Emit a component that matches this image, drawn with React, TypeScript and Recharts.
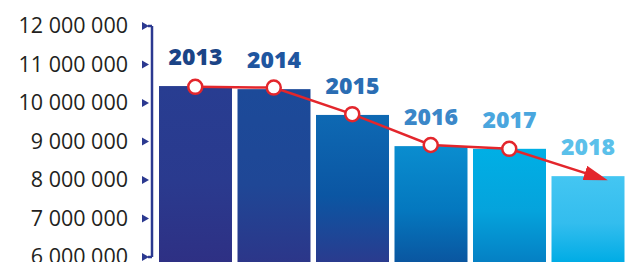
import React from 'react';
import { ComposedChart, Bar, Line, XAxis, YAxis, LabelList } from 'recharts';

const years = ['2013', '2014', '2015', '2016', '2017', '2018'];
const population = [10440000, 10360000, 9690000, 8880000, 8810000, 8100000];
const trend = [10420000, 10400000, 9710000, 8910000, 8810000, 8160000];
const yTicks = [6000000, 7000000, 8000000, 9000000, 10000000, 11000000, 12000000];

const barTop = ['#283d91', '#1c4a99', '#0e69b3', '#0a8dcf', '#00afe5', '#44c6f2'];
const barMid = ['#2a3a8e', '#1f4796', '#0b56a3', '#0478bf', '#05a3dc', '#33bdee'];
const barBottom = ['#2e3084', '#2c3689', '#2a3b8e', '#0a56a0', '#0580c4', '#00ace5'];
const labelColors = ['#1b4486', '#1f56a0', '#2a6db3', '#3b87c8', '#4aa6de', '#5bc0ea'];

const data = years.map((year, i) => ({ year, value: population[i], trend: trend[i] }));

const RED = '#e3262c';
const NAVY = '#2b3990';

const fmt = (v: number) => String(v).replace(/\B(?=(\d{3})+(?!\d))/g, ' ');

const YTick = (props: any) => {
    const { x, y, payload, index } = props;
    const edge = index === 0 || index === yTicks.length - 1;
    return (
        <g>
            <polygon points={`${x - 10},${y - 4} ${x - 3},${y} ${x - 10},${y + 4}`} fill={NAVY} />
            {edge && <line x1={x - 4} x2={x} y1={y} y2={y} stroke={NAVY} strokeWidth={2.5} />}
            <text x={x - 24} y={y} dy="0.33em" textAnchor="end" fill="#231f20"
                style={{ fontFamily: '"Open Sans", sans-serif', fontSize: 21.5 }}>
                {fmt(payload.value)}
            </text>
        </g>
    );
};

// bars run past the 6 000 000 line to the bottom edge
const BarShape = (props: any) => {
    const { x, y, width, height, index } = props;
    return <rect x={x} y={y} width={width} height={height + 5} fill={`url(#bar-${index})`} />;
};

const YearLabel = (props: any) => {
    const { x, y, width, value, index } = props;
    return (
        <text x={x + width / 2} y={y - 21} textAnchor="middle" fill={labelColors[index]}
            style={{ fontFamily: '"Open Sans", sans-serif', fontSize: 23, fontWeight: 800 }}>
            {value}
        </text>
    );
};

const TrendDot = (props: any) => {
    const { cx, cy, index } = props;
    if (index === trend.length - 1) return <g key={`d-${index}`} />;
    return <circle key={`d-${index}`} cx={cx} cy={cy} r={7} fill="#fff" stroke={RED} strokeWidth={2.5} />;
};

export default function App() {
    return (
        <div style={{ position: 'absolute', left: 0, top: 0, width: 627, height: 262, background: '#fff' }}>
            <ComposedChart width={627} height={262} data={data} barCategoryGap={3}
                margin={{ top: 26, right: 0, bottom: 5, left: 0 }}>
                <defs>
                    {years.map((y, i) => (
                        <linearGradient key={y} id={`bar-${i}`} x1="0" y1="0" x2="0" y2="1">
                            <stop offset="0%" stopColor={barTop[i]} />
                            <stop offset="55%" stopColor={barMid[i]} />
                            <stop offset="100%" stopColor={barBottom[i]} />
                        </linearGradient>
                    ))}
                    <marker id="arrowhead" markerWidth="26" markerHeight="15" refX="3" refY="7.5"
                        orient="auto" markerUnits="userSpaceOnUse">
                        <path d="M0,0 L24,7.5 L0,15 z" fill={RED} />
                    </marker>
                </defs>
                <XAxis dataKey="year" hide padding={{ left: 4, right: 0 }} />
                <YAxis type="number" domain={[6000000, 12000000]} ticks={yTicks} interval={0}
                    width={152} tickSize={0} tickMargin={0} tickLine={false}
                    axisLine={{ stroke: NAVY, strokeWidth: 2.5 }} tick={<YTick />} />
                <Bar dataKey="value" shape={<BarShape />} isAnimationActive={false}>
                    <LabelList dataKey="year" content={<YearLabel />} />
                </Bar>
                <Line dataKey="trend" type="linear" stroke={RED} strokeWidth={2.5}
                    dot={<TrendDot />} activeDot={false} markerEnd="url(#arrowhead)"
                    isAnimationActive={false} />
            </ComposedChart>
        </div>
    );
}
